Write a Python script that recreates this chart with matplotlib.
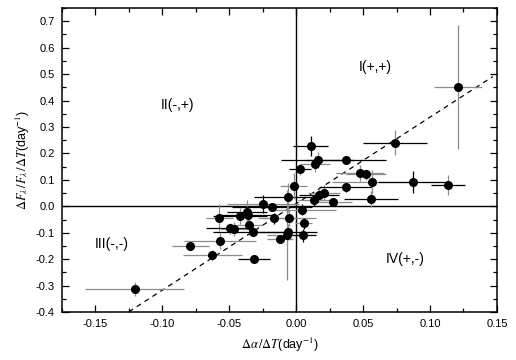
import numpy as np
import matplotlib.pyplot as plt
from matplotlib.ticker import MultipleLocator

plt.rcParams['font.family'] = ['Liberation Sans', 'DejaVu Sans']
plt.rcParams['mathtext.fontset'] = 'stix'

# data points: d_alpha/dT, dF/F/dT
x = [-0.1207, -0.079, -0.0625, -0.057, -0.0575, -0.0497, -0.0463, -0.042, -0.0365, -0.036,
     -0.035, -0.032, -0.0315, -0.0248, -0.018, -0.0167, -0.012, -0.0062, -0.0055, -0.0062,
     -0.0067, -0.0017, 0.003, 0.0045, 0.0055, 0.005, 0.011, 0.014, 0.016, 0.0135,
     0.017, 0.021, 0.0275, 0.037, 0.0375, 0.048, 0.0525, 0.0565, 0.056, 0.074,
     0.087, 0.1138, 0.121]
y = [-0.313, -0.151, -0.185, -0.131, -0.043, -0.083, -0.086, -0.035, -0.0225, -0.034,
     -0.070, -0.096, -0.198, 0.009, -0.004, -0.046, -0.125, 0.035, -0.043, -0.096,
     -0.109, 0.077, 0.140, -0.013, -0.064, -0.110, 0.229, 0.160, 0.176, 0.022,
     0.044, 0.052, 0.017, 0.073, 0.176, 0.125, 0.121, 0.091, 0.026, 0.240,
     0.092, 0.080, 0.452]
xerr = [0.037, 0.014, 0.022, 0.027, 0.010, 0.018, 0.010, 0.020, 0.015, 0.020,
        0.010, 0.030, 0.012, 0.027, 0.030, 0.012, 0.010, 0.025, 0.020, 0.022,
        0.015, 0.010, 0.008, 0.025, 0.006, 0.010, 0.013, 0.011, 0.027, 0.012,
        0.015, 0.012, 0.014, 0.020, 0.030, 0.018, 0.015, 0.030, 0.020, 0.024,
        0.026, 0.0127, 0.018]
yerr = [0.025, 0.010, 0.020, 0.030, 0.050, 0.020, 0.025, 0.030, 0.045, 0.020,
        0.025, 0.020, 0.010, 0.035, 0.015, 0.020, 0.015, 0.055, 0.030, 0.030,
        0.170, 0.050, 0.020, 0.020, 0.020, 0.025, 0.037, 0.030, 0.030, 0.020,
        0.025, 0.030, 0.015, 0.020, 0.015, 0.030, 0.020, 0.045, 0.030, 0.047,
        0.043, 0.038, 0.235]
# 'k' black, 'g' grey
xcol = list('gggggkgkkkgkkgkggkgkggkggkkgkgkggkkgggkkkkg')
ycol = list('ggggggggggggkkgkgggggggkkkkggkgggkkgggggkggg')

fit_intercept = 0.01
fit_slope = 3.27
fit_range = [-0.125, 0.147]

quad_labels = ['I(+,+)', 'II(-,+)', 'III(-,-)', 'IV(+,-)']
quad_pos = [(0.059, 0.525), (-0.089, 0.383), (-0.138, -0.141), (0.0815, -0.200)]

colors = {'k': 'black', 'g': '#8c8c8c'}

fig = plt.figure(figsize=(5.16, 3.6), dpi=100)
ax = fig.add_axes([0.120, 0.133, 0.843, 0.845])

ax.axhline(0, color='black', lw=1.0, zorder=1)
ax.axvline(0, color='black', lw=1.0, zorder=1)

fx = np.array(fit_range)
ax.plot(fx, fit_intercept + fit_slope * fx, color='black', lw=0.9,
        linestyle=(0, (4, 3.5)), zorder=2)

for xi, yi, ex, ey, cx, cy in zip(x, y, xerr, yerr, xcol, ycol):
    ax.errorbar(xi, yi, xerr=ex, fmt='none', ecolor=colors[cx], elinewidth=0.9, zorder=3)
    ax.errorbar(xi, yi, yerr=ey, fmt='none', ecolor=colors[cy], elinewidth=0.9, zorder=3)
ax.plot(x, y, 'o', color='black', markersize=5.5, zorder=4)

for lab, (px, py) in zip(quad_labels, quad_pos):
    ax.text(px, py, lab, ha='center', va='center', fontsize=10)

ax.set_xlim(-0.175, 0.15)
ax.set_ylim(-0.4, 0.75)
ax.xaxis.set_major_locator(MultipleLocator(0.05))
ax.xaxis.set_minor_locator(MultipleLocator(0.025))
ax.yaxis.set_major_locator(MultipleLocator(0.1))
ax.yaxis.set_minor_locator(MultipleLocator(0.05))
ax.xaxis.set_major_formatter(plt.FuncFormatter(lambda v, p: '%.2f' % v))
ax.yaxis.set_major_formatter(plt.FuncFormatter(lambda v, p: '%.1f' % v))
ax.tick_params(which='both', direction='in', top=True, right=True, labelsize=8, width=0.9)
ax.tick_params(which='major', length=5, pad=5)
ax.tick_params(which='minor', length=3)
for s in ax.spines.values():
    s.set_linewidth(1.1)

ax.set_xlabel(r'$\Delta\alpha\,/\Delta T$(day$^{\mathrm{-1}}$)', fontsize=9, labelpad=5)
ax.set_ylabel(r'$\Delta F_\lambda\,/F_\lambda\,/\Delta T$(day$^{\mathrm{-1}}$)', fontsize=9, labelpad=3)

plt.savefig('out.png', dpi=100)
